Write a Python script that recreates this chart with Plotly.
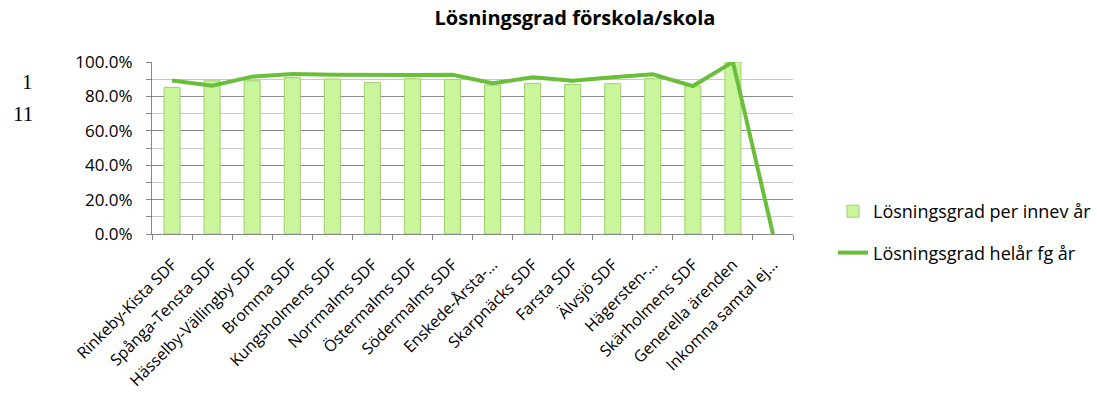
import plotly.graph_objects as go

categories = [
    "Rinkeby-Kista SDF", "Spånga-Tensta SDF", "Hässelby-Vällingby SDF", "Bromma SDF",
    "Kungsholmens SDF", "Norrmalms SDF", "Östermalms SDF", "Södermalms SDF",
    "Enskede-Årsta-…", "Skarpnäcks SDF", "Farsta SDF", "Älvsjö SDF",
    "Hägersten-…", "Skärholmens SDF", "Generella ärenden", "Inkomna samtal ej…",
]
per_innev_ar = [0.853, 0.891, 0.891, 0.909, 0.901, 0.880, 0.903, 0.899,
                0.866, 0.876, 0.870, 0.874, 0.903, 0.860, 1.0, None]
helar_fg_ar = [0.893, 0.862, 0.915, 0.930, 0.926, 0.924, 0.924, 0.926,
               0.876, 0.911, 0.891, 0.911, 0.928, 0.860, 1.0, 0.0]
series_names = ["Lösningsgrad per innev år", "Lösningsgrad helår fg år"]
title_text = "Lösningsgrad förskola/skola"
side_labels = ["1", "11"]

FONT = "Open Sans"
W, H = 1097, 402
L, R, T, B = 152, 304, 62, 168
PW, PH = W - L - R, H - T - B

fig = go.Figure()
fig.add_trace(go.Bar(
    x=categories, y=per_innev_ar, name=series_names[0], width=0.4,
    marker=dict(color="#c9f59c", line=dict(color="#9fcf6c", width=1)),
    legendgroup="a",
))
fig.add_trace(go.Scatter(
    x=categories, y=helar_fg_ar, name=series_names[1], mode="lines",
    line=dict(color="#6abf3a", width=4), legendgroup="b",
))

fig.update_layout(
    width=W, height=H,
    margin=dict(l=L, r=R, t=T, b=B, autoexpand=False),
    paper_bgcolor="white", plot_bgcolor="white",
    font=dict(family=FONT, size=17, color="black"),
    title=dict(text="<b>" + title_text + "</b>", x=575 / W, xanchor="center",
               xref="container", y=1 - 18 / H, yanchor="middle",
               font=dict(family=FONT, size=20, color="black")),
    showlegend=True,
    legend=dict(x=(833 - L) / PW, y=(234 - 232) / PH, xanchor="left", yanchor="middle",
                traceorder="grouped", tracegroupgap=15,
                font=dict(family=FONT, size=18, color="black"),
                bgcolor="rgba(0,0,0,0)", itemwidth=30),
    bargap=0.6,
)
fig.update_xaxes(
    type="category", tickangle=-45, showline=True, linecolor="#868686", linewidth=1,
    ticks="outside", ticklen=5, tickcolor="#868686", tickson="boundaries",
    showgrid=False, tickfont=dict(family=FONT, size=16), range=[-0.5, 15.5],
    ticklabelstandoff=14,
)
fig.update_yaxes(
    range=[0, 1.0], dtick=0.2, tickformat=".1%", showline=True, linecolor="#868686",
    linewidth=1, ticks="outside", ticklen=5, tickcolor="#868686",
    showgrid=True, gridcolor="#8c8c8c", gridwidth=1, zeroline=False,
    minor=dict(dtick=0.1, showgrid=True, gridcolor="#c8c8c8", ticks="outside",
               ticklen=5, tickcolor="#868686"),
    tickfont=dict(family=FONT, size=17), ticklabelstandoff=10,
)
fig.add_annotation(text=side_labels[0], xref="paper", yref="paper",
                   x=-(L - 27) / PW, y=(234 - 82) / PH, xanchor="center", yanchor="middle",
                   showarrow=False, font=dict(family="Liberation Serif", size=21))
fig.add_annotation(text=side_labels[1], xref="paper", yref="paper",
                   x=-(L - 23) / PW, y=(234 - 114) / PH, xanchor="center", yanchor="middle",
                   showarrow=False, font=dict(family="Liberation Serif", size=21))

fig.write_html("out.html", post_script="document.body.style.margin='0';",
               config={"displayModeBar": False})
